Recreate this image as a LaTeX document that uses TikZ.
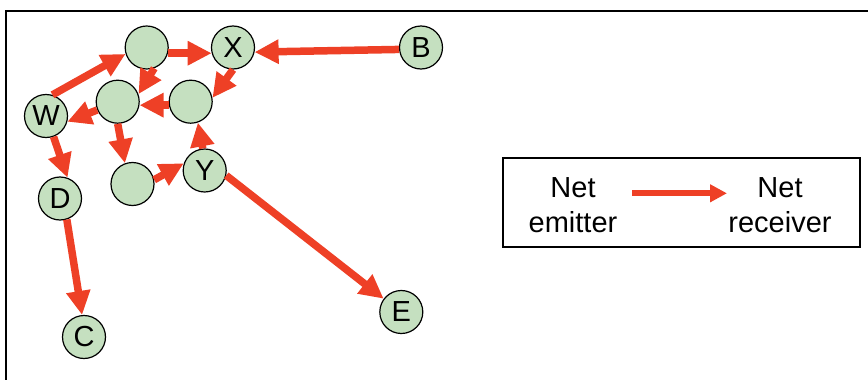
\documentclass[tikz,border=0pt]{standalone}
\usepackage{fontspec}
\setmainfont{Liberation Sans}
\usetikzlibrary{arrows.meta}
\definecolor{leaf}{RGB}{197,224,192}
\definecolor{flux}{RGB}{238,64,38}
\tikzset{
    site/.style={circle, draw, line width=1.2pt, fill=leaf, minimum size=43pt,
        inner sep=0pt, font=\fontsize{29}{30}\selectfont},
    flow/.style={draw=flux, line width=7.5pt, -{Triangle[length=24pt,width=23pt]}}
}
\newcommand{\flow}[2]{
    \draw[flow] #1 -- #2;
}

\begin{document}
\begin{tikzpicture}[x=1pt, y=-1pt]
        \useasboundingbox (0,0) rectangle (868,380);
        \draw[line width=2pt] (6,382) -- (6,11) -- (870,11);
        % sites
        \node[site] (top) at (146.7,47.5) {};
        \node[site] (X) at (233,47.5) {X};
        \node[site] (B) at (421,47.5) {B};
        \node[site] (midl) at (117.7,101.7) {};
        \node[site] (midr) at (190.7,101.7) {};
        \node[site] (W) at (46,116) {W};
        \node[site] (D) at (60,198.5) {D};
        \node[site] (low) at (132.5,184) {};
        \node[site] (Y) at (204.7,170.5) {Y};
        \node[site] (C) at (84,337) {C};
        \node[site] (E) at (401.3,312) {E};
        % net flows
        \flow{(W.73)}{(top.197)}
        \flow{(top.-15)}{(X.195)}
        \flow{(B.185)}{(X.-12)}
        \flow{(top.-70)}{(midl.20)}
        \flow{(X.-90)}{(midr.10)}
        \flow{(midr.189)}{(midl.-9)}
        \flow{(midl.202)}{(W.-15)}
        \flow{(W.-70)}{(D.70)}
        \flow{(midl.-90)}{(low.110)}
        \flow{(low.11)}{(Y.161)}
        \flow{(Y.95)}{(midr.-71)}
        \flow{(Y.-13)}{(E.143)}
        \flow{(D.-72)}{(C.95)}
        % legend
        \draw[line width=1.5pt] (503,158) rectangle (860,247);
        \node[align=center, font=\fontsize{29}{35}\selectfont] (emit) at (573,205) {Net\\emitter};
        \node[align=center, font=\fontsize{29}{35}\selectfont] (recv) at (780,205) {Net\\receiver};
        \coordinate (ls) at (632,193.3);
        \coordinate (le) at (727,193.3);
        \draw[draw=flux, line width=6pt, -{Triangle[length=17pt,width=17pt]}] (ls) -- (le);
    \end{tikzpicture}
\end{document}
